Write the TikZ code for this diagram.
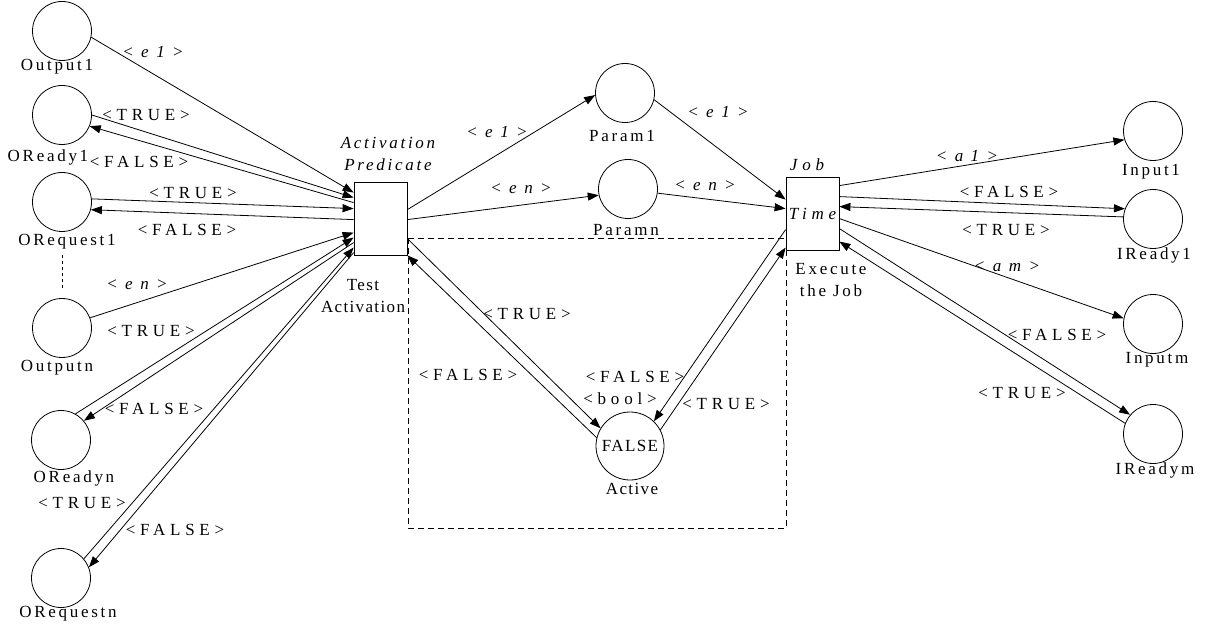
\documentclass[tikz,border=0pt]{standalone}
\usepackage{fontspec}
\setmainfont{Liberation Serif}[LetterSpace=8]
\newfontfamily\nmfont{Liberation Serif}[LetterSpace=16]
\newfontfamily\elfont{Liberation Serif}[LetterSpace=19]
\newfontfamily\lbfont{Liberation Serif}[LetterSpace=28]
\usetikzlibrary{arrows.meta}

\tikzset{
  place/.style={circle, draw, minimum size=59pt, inner sep=0pt},
  trans/.style={rectangle, draw, fill=white, minimum width=53pt, minimum height=73pt, inner sep=0pt},
  nm/.style={font=\nmfont\fontsize{17}{22}\selectfont, inner sep=0pt, align=center},
  lb/.style={font=\lbfont\fontsize{17}{22}\selectfont, inner sep=0pt},
  el/.style={font=\elfont\fontsize{17}{22}\selectfont\itshape, inner sep=0pt},
  arc/.style={-{Triangle[length=11pt,width=8pt]}},
}

\begin{document}
\begin{tikzpicture}[x=1pt, y=-1pt, line width=0.8pt, font=\fontsize{17}{22}\selectfont]
  \useasboundingbox (0,0) rectangle (1207,628);

  % enabling region
  \draw[dashed, line width=0.6pt, dash pattern=on 6pt off 4pt] (408,238) rectangle (786,528);

  % output side places
  \node[place] (Out1) at (62,31) {};
  \node[place] (ORd1) at (62,115) {};
  \node[place] (ORq1) at (62,202) {};
  \node[place] (Outn) at (62,328) {};
  \node[place] (ORdn) at (61,440) {};
  \node[place] (ORqn) at (61,578) {};
  \node[nm] (nOut1) at (57,67) {Output1};
  \node[nm] (nORd1) at (48,157) {OReady1};
  \node[nm] (nORq1) at (67,242) {ORequest1};
  \node[nm] (nOutn) at (57,368) {Outputn};
  \node[nm] (nORdn) at (74,478) {OReadyn};
  \node[nm] (nORqn) at (68,614) {ORequestn};
  \draw[dashed, line width=0.6pt, shorten <=5pt, shorten >=10pt] (Outn.north |- nORq1.south) -- (Outn.north);

  % transitions
  \node[trans] (Act) at (380.5,218.5) {};
  \node[trans, font=\lbfont\fontsize{17}{22}\selectfont\itshape] (Job) at (812.5,213.5) {Time};
  \node[nm, font=\nmfont\fontsize{17}{22}\selectfont\itshape] (tAct) at (388,154) {Activation\\Predicate};
  \node[align=center, inner sep=0pt] (nAct) at (363,296) {Test\\Activation};
  \node[lb, font=\lbfont\fontsize{17}{22}\selectfont\itshape] (tJob) at (807,165) {Job};
  \node[nm] (nJob) at (831,280) {Execute\\the Job};

  % middle places
  \node[place] (Par1) at (625,93) {};
  \node[place] (Parn) at (628,189) {};
  \node[place, minimum size=68pt] (Actv) at (630,446) {FALSE};
  \node[nm] (nPar1) at (622,136) {Param1};
  \node[nm] (nParn) at (626,230) {Paramn};
  \node[inner sep=0pt] (nActv) at (632,489) {Active};
  \node[lb] (cActv) at (620,399) {<bool>};

  % input side places
  \node[place] (In1) at (1153,131) {};
  \node[place] (IRd1) at (1153,219) {};
  \node[place] (Inm) at (1153,324) {};
  \node[place] (IRdm) at (1153,434) {};
  \node[nm] (nIn1) at (1151,172) {Input1};
  \node[nm] (nIRd1) at (1154,255) {IReady1};
  \node[nm] (nInm) at (1157,360) {Inputm};
  \node[nm] (nIRdm) at (1155,470) {IReadym};

  % arcs into Test Activation
  \draw[arc] (Out1.-12) -- ([yshift=-11pt]Act.north west);
  \draw[arc] (ORd1.0) -- ([yshift=-16pt]Act.north west);
  \draw[arc] ([yshift=-21pt]Act.north west) -- (ORd1.-22);
  \draw[arc] (ORq1.6) -- ([yshift=-27pt]Act.north west);
  \draw[arc] ([yshift=-38pt]Act.north west) -- (ORq1.-15);
  \draw[arc] (Outn.20) -- ([yshift=-51pt]Act.north west);
  \draw[arc] (ORdn.61) -- ([yshift=-56pt]Act.north west);
  \draw[arc] ([yshift=-61pt]Act.north west) -- (ORdn.40);
  \draw[arc] (ORqn.40) -- ([yshift=-66pt]Act.north west);
  \draw[arc] ([yshift=-71pt]Act.north west) -- (ORqn.21);
  \node[el] (aOut1) at (153,52) {< e 1 >};
  \node[lb] (aORd1t) at (146,115) {<TRUE>};
  \node[lb] (aORd1f) at (139,162) {<FALSE>};
  \node[lb] (aORq1t) at (193,193) {<TRUE>};
  \node[lb] (aORq1f) at (187,230) {<FALSE>};
  \node[el] (aOutn) at (137,285) {< e n >};
  \node[lb] (aORdnt) at (151,331) {<TRUE>};
  \node[lb] (aORdnf) at (154,409) {<FALSE>};
  \node[lb] (aORqnt) at (82,503) {<TRUE>};
  \node[lb] (aORqnf) at (175,530) {<FALSE>};

  % middle arcs
  \draw[arc] ([yshift=-28pt]Act.north east) -- (Par1.184);
  \draw[arc] ([yshift=-38pt]Act.north east) -- (Parn.192);
  \draw[arc] (Par1.-13) -- ([yshift=-23pt]Job.north west);
  \draw[arc] (Parn.-8) -- ([yshift=-32pt]Job.north west);
  \draw[arc] ([yshift=-57pt]Act.north east) -- (Actv.149);
  \draw[arc] (Actv.166) -- (Act.south east);
  \draw[arc] ([yshift=-53pt]Job.north west) -- (Actv.46);
  \draw[arc] (Actv.28) -- ([yshift=-71pt]Job.north west);
  \node[el] (aPar1i) at (497,132) {< e 1 >};
  \node[el] (aParni) at (521,189) {< e n >};
  \node[el] (aPar1o) at (718,112) {< e 1 >};
  \node[el] (aParno) at (705,186) {< e n >};
  \node[lb] (aActt) at (527,314) {<TRUE>};
  \node[lb] (aActf) at (468,375) {<FALSE>};
  \node[lb] (aJobf) at (635,377) {<FALSE>};
  \node[lb] (aJobt) at (726,404) {<TRUE>};

  % arcs out of Execute the Job
  \draw[arc] ([yshift=-9pt]Job.north east) -- (In1.197);
  \draw[arc] ([yshift=-20pt]Job.north east) -- (IRd1.160);
  \draw[arc] (IRd1.176) -- ([yshift=-30pt]Job.north east);
  \draw[arc] ([yshift=-42pt]Job.north east) -- (Inm.169);
  \draw[arc] ([yshift=-52pt]Job.north east) -- (IRdm.140);
  \draw[arc] (IRdm.159) -- ([yshift=-65pt]Job.north east);
  \node[el] (aIn1) at (967,156) {< a 1 >};
  \node[lb] (aIRd1f) at (1009,192) {<FALSE>};
  \node[lb] (aIRd1t) at (1006,230) {<TRUE>};
  \node[el] (aInm) at (1007,267) {< a m >};
  \node[lb] (aIRdmf) at (1057,335) {<FALSE>};
  \node[lb] (aIRdmt) at (1022,393) {<TRUE>};
\end{tikzpicture}
\end{document}
